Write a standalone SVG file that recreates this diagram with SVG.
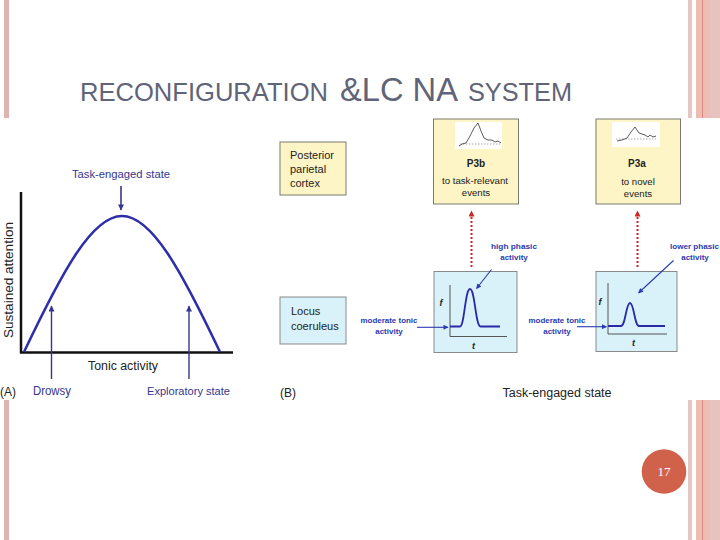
<svg xmlns="http://www.w3.org/2000/svg" width="720" height="540" viewBox="0 0 720 540">
<defs>
<style>
.t{font-family:"Liberation Sans",Arial,sans-serif}
.navy{fill:#36368e}
.lab{font-size:11px;fill:#222}
.bl{font-size:8px;font-weight:bold;fill:#2b3ab0}
.ybox{fill:#fdf5c6;stroke:#7a7a70;stroke-width:1}
.cbox{fill:#d9f1f8;stroke:#8a8a8a;stroke-width:1}
.ax{stroke:#555;stroke-width:1;fill:none}
.wave{stroke:#2a2aa8;stroke-width:1.8;fill:none}
.erp{stroke:#333;stroke-width:0.8;fill:none}
.base{stroke:#888;stroke-width:0.7;stroke-dasharray:1.5 1.5;fill:none}
.fi{font-size:9px;font-style:italic;font-weight:bold;fill:#222}
</style>
<marker id="mNavy" viewBox="0 0 10 10" refX="9" refY="5" markerWidth="7" markerHeight="6" markerUnits="userSpaceOnUse" orient="auto"><path d="M0,0 L10,5 L0,10 Z" fill="#36368e"/></marker>
<marker id="mBlue" viewBox="0 0 10 10" refX="9" refY="5" markerWidth="6" markerHeight="5" markerUnits="userSpaceOnUse" orient="auto"><path d="M0,0 L10,5 L0,10 Z" fill="#2b3ab0"/></marker>
<marker id="mRed" viewBox="0 0 10 10" refX="9" refY="5" markerWidth="7" markerHeight="6" markerUnits="userSpaceOnUse" orient="auto"><path d="M0,0 L10,5 L0,10 Z" fill="#c82828"/></marker>
</defs>

<rect x="0" y="0" width="720" height="540" fill="#ffffff"/>
<!-- slide borders -->
<rect x="4" y="0" width="5" height="540" fill="#dcb5b0"/>
<rect x="688" y="0" width="4" height="540" fill="#e6c6c2"/>
<rect x="696" y="0" width="6" height="540" fill="#efbcb4"/>
<rect x="702" y="0" width="1" height="540" fill="#d68a84"/>
<rect x="703" y="0" width="7" height="540" fill="#efbcb4"/>
<rect x="710" y="0" width="10" height="540" fill="#e7c3bf"/>

<!-- title -->
<g id="title">
<text class="t" x="80" y="101" font-size="25" fill="#5f6478" textLength="248" lengthAdjust="spacingAndGlyphs">RECONFIGURATION</text>
<text class="t" x="340" y="101" font-size="33" fill="#5f6478" textLength="118" lengthAdjust="spacingAndGlyphs">&amp;LC NA</text>
<text class="t" x="468" y="101" font-size="25" fill="#5f6478" textLength="104" lengthAdjust="spacingAndGlyphs">SYSTEM</text>
</g>

<!-- figure background -->
<rect x="0" y="118" width="720" height="282" fill="#ffffff"/>

<!-- Panel A -->
<g id="panelA">
<line x1="21" y1="192" x2="21" y2="353" stroke="#111" stroke-width="2.5"/>
<line x1="20" y1="352.5" x2="233" y2="352.5" stroke="#111" stroke-width="2.5"/>
<path d="M24,352 C62,272 92,216 122,216 C152,216 182,272 220,352" stroke="#2e2eaa" stroke-width="2.5" fill="none"/>
<text class="t navy" x="121" y="178" font-size="11.5" text-anchor="middle" textLength="98" lengthAdjust="spacingAndGlyphs">Task-engaged state</text>
<text class="t" x="13" y="280" font-size="13" fill="#222" text-anchor="middle" transform="rotate(-90 13 280)" textLength="116" lengthAdjust="spacingAndGlyphs">Sustained attention</text>
<text class="t" x="123" y="370" font-size="12" fill="#222" text-anchor="middle" textLength="70" lengthAdjust="spacingAndGlyphs">Tonic activity</text>
<text class="t navy" x="33" y="395" font-size="12" textLength="38" lengthAdjust="spacingAndGlyphs">Drowsy</text>
<text class="t navy" x="147" y="395" font-size="11.5" textLength="83" lengthAdjust="spacingAndGlyphs">Exploratory state</text>
<text class="t" x="0" y="396" font-size="12" fill="#222">(A)</text>
</g>

<!-- Panel B nodes -->
<g id="ppc">
<rect class="ybox" x="280" y="142" width="66" height="53"/>
<text class="t lab" x="290" y="159">Posterior</text>
<text class="t lab" x="290" y="173">parietal</text>
<text class="t lab" x="290" y="187">cortex</text>
</g>
<g id="lc">
<rect class="cbox" x="280" y="297" width="66" height="47"/>
<text class="t lab" x="291" y="315">Locus</text>
<text class="t lab" x="291" y="330">coeruleus</text>
</g>
<g id="p3b">
<rect class="ybox" x="433.5" y="119" width="85" height="85"/>
<rect x="455" y="122" width="47" height="27" fill="#ffffff"/>
<line class="base" x1="460" y1="144" x2="500" y2="144"/>
<polyline class="erp" points="459,146 462,144 466,143 470,136 474,128 478,123 481,131 484,138 488,140 492,140 495,142 498,141 501,143"/>
<text class="t" x="476" y="166.5" font-size="10" font-weight="bold" fill="#222" text-anchor="middle">P3b</text>
<text class="t" x="475" y="184" font-size="9.6" fill="#222" text-anchor="middle" textLength="66" lengthAdjust="spacingAndGlyphs">to task-relevant</text>
<text class="t" x="476" y="196" font-size="9.6" fill="#222" text-anchor="middle">events</text>
</g>
<g id="p3a">
<rect class="ybox" x="596" y="119" width="84.5" height="85"/>
<rect x="612" y="122" width="48" height="25" fill="#ffffff"/>
<line class="base" x1="616" y1="139" x2="656" y2="139"/>
<polyline class="erp" points="617,141 622,140 627,138 631,132 635,127 639,133 642,134 645,135 648,137 650,135 653,137 656,136"/>
<text class="t" x="637" y="166.5" font-size="10" font-weight="bold" fill="#222" text-anchor="middle">P3a</text>
<text class="t" x="638" y="185" font-size="9.6" fill="#222" text-anchor="middle">to novel</text>
<text class="t" x="638" y="197" font-size="9.6" fill="#222" text-anchor="middle">events</text>
</g>
<g id="lc1">
<rect class="cbox" x="434" y="271.5" width="83" height="81"/>
<polyline class="ax" points="450,285 450,336.5 507,336.5"/>
<path class="wave" d="M450,326.5 L460,326.5 C464.5,326.5 465,289 470,289 C475,289 475.5,326.5 480.5,326.5 L500,326.5"/>
<text class="t fi" x="439.5" y="306">f</text>
<text class="t fi" x="472" y="349">t</text>
</g>
<g id="lc2">
<rect class="cbox" x="596" y="271.5" width="81" height="80"/>
<polyline class="ax" points="608,283 608,334 667,334"/>
<path class="wave" d="M608,326 L621,326 C625.5,326 626,303 630,303 C634,303 634.5,326 639,326 L665,326"/>
<text class="t fi" x="598.5" y="305">f</text>
<text class="t fi" x="632" y="346">t</text>
</g>

<!-- Panel B labels -->
<g id="labelsB">
<text class="t bl" x="389" y="323" text-anchor="middle" textLength="57" lengthAdjust="spacingAndGlyphs">moderate tonic</text>
<text class="t bl" x="389" y="334" text-anchor="middle">activity</text>
<text class="t bl" x="557" y="323" text-anchor="middle" textLength="57" lengthAdjust="spacingAndGlyphs">moderate tonic</text>
<text class="t bl" x="557" y="334" text-anchor="middle">activity</text>
<text class="t bl" x="514" y="249" text-anchor="middle" textLength="46" lengthAdjust="spacingAndGlyphs">high phasic</text>
<text class="t bl" x="514" y="260" text-anchor="middle">activity</text>
<text class="t bl" x="694.5" y="249" text-anchor="middle" textLength="49" lengthAdjust="spacingAndGlyphs">lower phasic</text>
<text class="t bl" x="695" y="260" text-anchor="middle">activity</text>
<text class="t" x="557" y="397" font-size="12.5" fill="#222" text-anchor="middle" textLength="109" lengthAdjust="spacingAndGlyphs">Task-engaged state</text>
<text class="t" x="280" y="397" font-size="12" fill="#222">(B)</text>
</g>

<!-- connectors -->
<g id="connectors">
<line x1="121" y1="186" x2="121" y2="210" stroke="#36368e" stroke-width="1.6" marker-end="url(#mNavy)"/>
<line x1="51.5" y1="379" x2="51.5" y2="306" stroke="#36368e" stroke-width="1.4" marker-end="url(#mNavy)"/>
<line x1="189" y1="379" x2="189" y2="306" stroke="#36368e" stroke-width="1.4" marker-end="url(#mNavy)"/>
<line x1="471.5" y1="267" x2="471.5" y2="211" stroke="#c82828" stroke-width="2" stroke-dasharray="2 2" marker-end="url(#mRed)"/>
<line x1="637.5" y1="267" x2="637.5" y2="211" stroke="#c82828" stroke-width="2" stroke-dasharray="2 2" marker-end="url(#mRed)"/>
<line x1="417" y1="327.3" x2="448" y2="327.3" stroke="#2b3ab0" stroke-width="1.1" marker-end="url(#mBlue)"/>
<line x1="577" y1="326.7" x2="606.5" y2="326.7" stroke="#2b3ab0" stroke-width="1.1" marker-end="url(#mBlue)"/>
<line x1="491.5" y1="269.5" x2="476.5" y2="288.5" stroke="#2b3ab0" stroke-width="1.1" marker-end="url(#mBlue)"/>
<line x1="673.5" y1="260.5" x2="638.5" y2="293" stroke="#2b3ab0" stroke-width="1.1" marker-end="url(#mBlue)"/>
</g>

<!-- page number -->
<g id="pagenum">
<circle cx="664" cy="471.5" r="22.3" fill="#d0614b"/>
<text x="664" y="476" font-family="Liberation Serif, 'Times New Roman', serif" font-size="13" fill="#ffffff" text-anchor="middle">17</text>
</g>
</svg>
